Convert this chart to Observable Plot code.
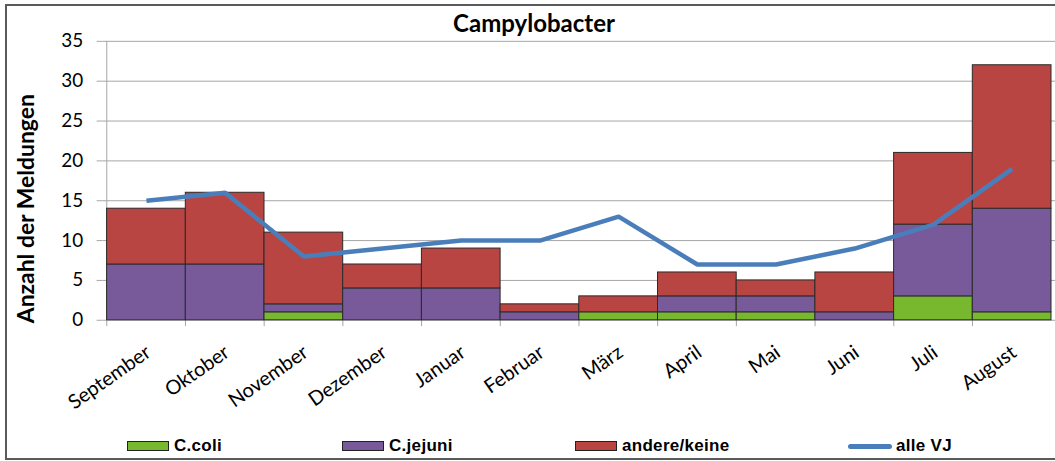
<!DOCTYPE html>
<html>
<head>
<meta charset="utf-8">
<script src="https://cdn.jsdelivr.net/npm/d3@7"></script>
<script src="https://cdn.jsdelivr.net/npm/@observablehq/plot@0.6"></script>
<style>
  html, body { margin: 0; padding: 0; background: #fff; }
  #wrap { position: relative; width: 1055px; height: 461px; overflow: hidden; font-family: Lato, sans-serif; }
  #border { position: absolute; left: 5px; top: 4px; width: 1100px; height: 452px; border: 2px solid #5a5a5a; box-sizing: content-box; }
  #title { position: absolute; left: 0; top: 8px; width: 1068px; text-align: center; font: bold 24px Lato, sans-serif; color: #000; }
  #chart { position: absolute; left: 0; top: 0; }
  .leg { position: absolute; top: 436px; height: 20px; display: flex; align-items: center; font: bold 17px "Liberation Sans", Arial, sans-serif; letter-spacing: 0.3px; color: #000; }
  .sw { width: 40px; height: 8px; border: 1px solid #222; margin-right: 5px; }
  .ln { width: 44px; height: 5px; border-radius: 2.5px; margin-right: 4px; }
</style>
</head>
<body>
<div id="wrap">
  <div id="border"></div>
  <div id="chart"></div>
  <div id="title">Campylobacter</div>
  <div id="legend"></div>
</div>
<script>
const months = ["September","Oktober","November","Dezember","Januar","Februar","März","April","Mai","Juni","Juli","August"];
const seriesNames = ["C.coli","C.jejuni","andere/keine"];
const cColi    = [0,0,1,0,0,0,1,1,1,0,3,1];
const cJejuni  = [7,7,1,4,4,1,0,2,2,1,9,13];
const andere   = [7,9,9,3,5,1,2,3,2,5,9,18];
const alleVJ   = [15,16,8,9,10,10,13,7,7,9,12,19];
const yTicks   = [0,5,10,15,20,25,30,35];
const yLabel   = "Anzahl der Meldungen";
const colors   = ["#77b82f","#785a9a","#b94543"];
const lineColor = "#4a7ebb";

const seriesValues = [cColi, cJejuni, andere];
const bars = [];
months.forEach((m, i) => {
  seriesNames.forEach((s, j) => {
    if (seriesValues[j][i] > 0) bars.push({month: m, series: s, value: seriesValues[j][i]});
  });
});
const lineData = months.map((m, i) => ({month: m, value: alleVJ[i]}));

const W = 1059, H = 461, ML = 103, MR = 0, MT = 41, MB = 140;
const bw = (W - ML - MR) / months.length;

const chart = Plot.plot({
  width: W, height: H,
  marginLeft: ML, marginRight: MR, marginTop: MT, marginBottom: MB,
  style: {fontFamily: "Lato, sans-serif", color: "#000", background: "transparent", overflow: "visible"},
  x: {type: "band", domain: months, padding: 0, axis: null},
  y: {domain: [0, 35], axis: null},
  color: {domain: seriesNames, range: colors},
  marks: [
    Plot.gridY(yTicks, {stroke: "#a6a6a6", strokeOpacity: 1, strokeWidth: 1}),
    Plot.axisY(yTicks, {tickSize: 6, tickPadding: 14, fontSize: 19, stroke: "#a6a6a6", strokeOpacity: 1, label: null, tickFormat: d => d}),
    Plot.text([yLabel], {frameAnchor: "left", text: d => d, rotate: -90, textAnchor: "middle", lineAnchor: "middle", dx: -77, dy: 28, fontSize: 23, fontWeight: "bold", fill: "#000"}),
    Plot.ruleX([months[0]], {x: d => d, dx: -bw / 2, y1: 0, y2: 35, stroke: "#a6a6a6", strokeWidth: 1}),
    Plot.ruleX(months, {x: d => d, dx: -bw / 2, y1: 0, y2: -0.8, stroke: "#a6a6a6", strokeWidth: 1, clip: false}),
    Plot.barY(bars, {x: "month", y: "value", fill: "series", order: seriesNames, stroke: "#2a2a2a", strokeWidth: 1, inset: 0}),
    Plot.line(lineData, {x: "month", y: "value", stroke: lineColor, strokeWidth: 4.5, strokeLinejoin: "miter", strokeLinecap: "butt"}),
    Plot.text(months, {x: d => d, y: 0, text: d => d, rotate: -35, textAnchor: "end", lineAnchor: "middle", dx: 2, dy: 30, fontSize: 20, fill: "#000"})
  ]
});
document.getElementById("chart").appendChild(chart);

// Legend
const legend = document.getElementById("legend");
const legItems = [
  {label: seriesNames[0], color: colors[0], type: "sw", left: 127},
  {label: seriesNames[1], color: colors[1], type: "sw", left: 342},
  {label: seriesNames[2], color: colors[2], type: "sw", left: 575},
  {label: "alle VJ", color: lineColor, type: "ln", left: 848}
];
legItems.forEach(it => {
  const d = document.createElement("div");
  d.className = "leg";
  d.style.left = it.left + "px";
  const s = document.createElement("div");
  s.className = it.type;
  s.style.background = it.color;
  d.appendChild(s);
  const t = document.createElement("span");
  t.textContent = it.label;
  d.appendChild(t);
  legend.appendChild(d);
});
</script>
</body>
</html>
